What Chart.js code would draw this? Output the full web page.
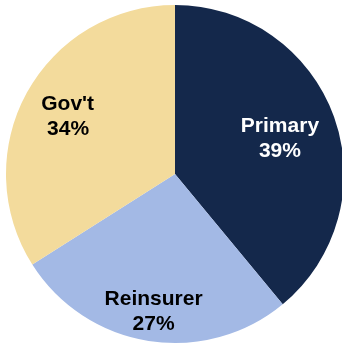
<!DOCTYPE html>
<html>
<head>
<meta charset="utf-8">
<script src="https://cdn.jsdelivr.net/npm/chart.js@4/dist/chart.umd.min.js"></script>
<style>
html,body{margin:0;padding:0;background:#fff;overflow:hidden;}
#wrap{width:342px;height:345px;position:relative;}
</style>
</head>
<body>
<div id="wrap"><canvas id="c" width="342" height="345"></canvas></div>
<script>
const categories = ["Primary", "Reinsurer", "Gov't"];
const values = [39, 27, 34];
const colors = ["#14284B", "#A3B9E5", "#F3DB9C"];
const labelColors = ["#ffffff", "#000000", "#000000"];

const labelPlugin = {
  id: 'sliceLabels',
  afterDatasetsDraw(chart) {
    const ctx = chart.ctx;
    const meta = chart.getDatasetMeta(0);
    const radialFrac = [0.66, 0.81, 0.725];
    const align = ['center', 'center', 'left'];
    const total = values.reduce((a, b) => a + b, 0);
    ctx.save();
    ctx.font = 'bold 21px "Liberation Sans", Arial, sans-serif';
    ctx.textBaseline = 'middle';
    meta.data.forEach((arc, i) => {
      const p = arc.getProps(['x', 'y', 'startAngle', 'endAngle', 'outerRadius'], true);
      const mid = (p.startAngle + p.endAngle) / 2;
      const r = p.outerRadius * radialFrac[i];
      const cx = p.x + Math.cos(mid) * r;
      const cy = p.y + Math.sin(mid) * r + 2;
      const pct = Math.round(values[i] / total * 100) + '%';
      const line1 = categories[i];
      const line2 = (align[i] === 'left' ? ' ' : '') + pct;
      ctx.fillStyle = labelColors[i];
      if (align[i] === 'left') {
        const w = ctx.measureText(line1).width;
        ctx.textAlign = 'left';
        ctx.fillText(line1, cx - w / 2, cy - 12.5);
        ctx.fillText(line2, cx - w / 2, cy + 12.5);
      } else {
        ctx.textAlign = 'center';
        ctx.fillText(line1, cx, cy - 12.5);
        ctx.fillText(line2, cx, cy + 12.5);
      }
    });
    ctx.restore();
  }
};

new Chart(document.getElementById('c'), {
  type: 'pie',
  data: {
    labels: categories,
    datasets: [{
      data: values,
      backgroundColor: colors,
      borderWidth: 0,
      radius: 169,
      clip: false
    }]
  },
  options: {
    responsive: false,
    animation: false,
    layout: { padding: { left: 8, right: 0, top: 3, bottom: 0 } },
    plugins: { legend: { display: false }, tooltip: { enabled: false } }
  },
  plugins: [labelPlugin]
});
</script>
</body>
</html>
